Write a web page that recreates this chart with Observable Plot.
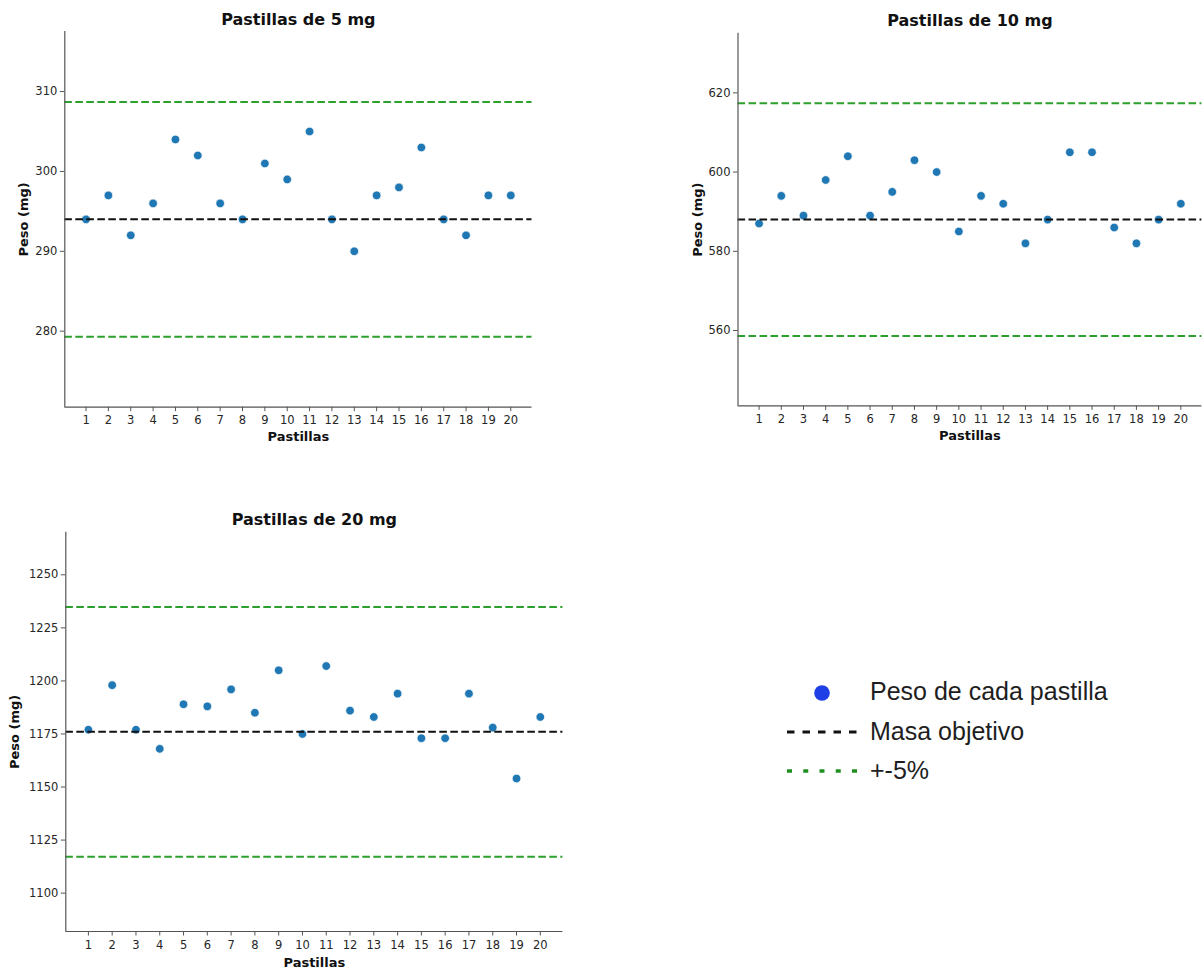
<!DOCTYPE html>
<html>
<head>
<meta charset="utf-8">
<script src="https://cdn.jsdelivr.net/npm/d3@7"></script>
<script src="https://cdn.jsdelivr.net/npm/@observablehq/plot@0.6"></script>
<style>
  html, body { margin: 0; padding: 0; background: white; }
  #root { position: relative; width: 1203px; height: 969px; overflow: hidden; background: white; }
  .panel { position: absolute; }
  .panel svg g[aria-label="x-axis tick label"] text,
  .panel svg g[aria-label="y-axis tick label"] text { font-size: 11.5px; }
  .legend { position: absolute; left: 780px; top: 672px; font-family: "Liberation Sans", Arial, sans-serif; font-size: 25px; color: #1e1e1e; }
  .legend .row { position: absolute; left: 0; height: 40px; white-space: nowrap; }
  .legend .row span { position: absolute; left: 90px; top: 50%; transform: translateY(-52%); }
  .legend svg { position: absolute; left: 0; top: 0; }
</style>
</head>
<body>
<div id="root"></div>
<script>
// ---- Data ----
const pastillas = [1, 2, 3, 4, 5, 6, 7, 8, 9, 10, 11, 12, 13, 14, 15, 16, 17, 18, 19, 20];

const peso5  = [294, 297, 292, 296, 304, 302, 296, 294, 301, 299, 305, 294, 290, 297, 298, 303, 294, 292, 297, 297];
const peso10 = [587, 594, 589, 598, 604, 589, 595, 603, 600, 585, 594, 592, 582, 588, 605, 605, 586, 582, 588, 592];
const peso20 = [1177, 1198, 1177, 1168, 1189, 1188, 1196, 1185, 1205, 1175, 1207, 1186, 1183, 1194, 1173, 1173, 1194, 1178, 1154, 1183];

const titulos = ["Pastillas de 5 mg", "Pastillas de 10 mg", "Pastillas de 20 mg"];
const objetivos = [294, 588, 1176];
const limites5  = [279.3, 308.7];
const limites10 = [558.6, 617.4];
const limites20 = [1117.2, 1234.8];

const yTicks5  = [280, 290, 300, 310];
const yTicks10 = [560, 580, 600, 620];
const yTicks20 = [1100, 1125, 1150, 1175, 1200, 1225, 1250];

const etiquetaX = "Pastillas";
const etiquetaY = "Peso (mg)";
const leyenda = ["Peso de cada pastilla", "Masa objetivo", "+-5%"];

// ---- Panels ----
const root = document.getElementById("root");

function panel(cfg) {
  const rows = pastillas.map((p, i) => ({pastilla: p, peso: cfg.values[i]}));
  const yDomain = [cfg.target * 0.92, cfg.target * 1.08];
  const xDomain = [0.05, 20.95];
  const svg = Plot.plot({
    width: cfg.width,
    height: cfg.height,
    marginLeft: cfg.ml,
    marginRight: cfg.mr,
    marginTop: cfg.mt,
    marginBottom: cfg.mb,
    x: {domain: xDomain},
    y: {domain: yDomain},
    style: {fontFamily: "DejaVu Sans", fontSize: "11.5px", color: "#262626", background: "white", overflow: "visible"},
    marks: [
      Plot.axisX(pastillas, {tickSize: 4.5, tickPadding: 4.5, label: null, fontSize: 11.5, stroke: "#555", tickFormat: d3.format("d")}),
      Plot.axisY(cfg.yTicks, {tickSize: 4.5, tickPadding: 3, label: null, fontSize: 11.5, stroke: "#555", tickFormat: d3.format("d")}),
      Plot.dot(rows, {x: "pastilla", y: "peso", r: 4.3, fill: "#1f77b4", stroke: "white", strokeWidth: 0.7}),
      Plot.ruleY(cfg.limits, {stroke: "#2ca02c", strokeWidth: 2, strokeDasharray: "7.6,3.4"}),
      Plot.ruleY([cfg.target], {stroke: "#111", strokeWidth: 2, strokeDasharray: "7.6,3.4"}),
      Plot.ruleX([xDomain[0]], {stroke: "#555", strokeWidth: 1.2}),
      Plot.ruleY([yDomain[0]], {stroke: "#555", strokeWidth: 1.2}),
      Plot.text([cfg.title], {frameAnchor: "top", dy: cfg.titleDy, textAnchor: "middle", lineAnchor: "middle", fontWeight: "bold", fontSize: 16, fill: "#111"}),
      Plot.text([etiquetaX], {frameAnchor: "bottom", dy: cfg.xlDy, textAnchor: "middle", lineAnchor: "middle", fontWeight: "bold", fontSize: 13, fill: "#111"}),
      Plot.text([etiquetaY], {frameAnchor: "left", dx: cfg.ylDx, rotate: -90, textAnchor: "middle", lineAnchor: "middle", fontWeight: "bold", fontSize: 13, fill: "#111"})
    ]
  });
  const div = document.createElement("div");
  div.className = "panel";
  div.style.left = cfg.left + "px";
  div.style.top = cfg.top + "px";
  div.appendChild(svg);
  root.appendChild(div);
}

panel({title: titulos[0], values: peso5, target: objetivos[0], limits: limites5, yTicks: yTicks5,
       left: 0, top: 0, width: 560, height: 450, ml: 64.3, mr: 28.5, mt: 31, mb: 43.3,
       titleDy: -12, xlDy: 30, ylDx: -41});
panel({title: titulos[1], values: peso10, target: objetivos[1], limits: limites10, yTicks: yTicks10,
       left: 680, top: 0, width: 523, height: 450, ml: 57.5, mr: 1.6, mt: 32.8, mb: 44.6,
       titleDy: -12, xlDy: 30.4, ylDx: -40});
panel({title: titulos[2], values: peso20, target: objetivos[2], limits: limites20, yTicks: yTicks20,
       left: 0, top: 480, width: 580, height: 489, ml: 65.3, mr: 17.6, mt: 51.7, mb: 38,
       titleDy: -12.7, xlDy: 31.7, ylDx: -50.5});

// ---- Legend ----
const leg = document.createElement("div");
leg.className = "legend";
const swatches = [
  `<svg width="90" height="40"><circle cx="42" cy="21" r="7.8" fill="#1f3fe6"/></svg>`,
  `<svg width="90" height="40"><line x1="7" x2="77" y1="20" y2="20" stroke="#111" stroke-width="3" stroke-dasharray="7.5,8"/></svg>`,
  `<svg width="90" height="40"><line x1="7" x2="77" y1="20" y2="20" stroke="#1f8f1f" stroke-width="3.5" stroke-dasharray="5,11.25"/></svg>`
];
const tops = [0, 40, 79];
leyenda.forEach((t, i) => {
  const r = document.createElement("div");
  r.className = "row";
  r.style.top = tops[i] + "px";
  r.innerHTML = swatches[i] + `<span>${t}</span>`;
  leg.appendChild(r);
});
root.appendChild(leg);
</script>
</body>
</html>
